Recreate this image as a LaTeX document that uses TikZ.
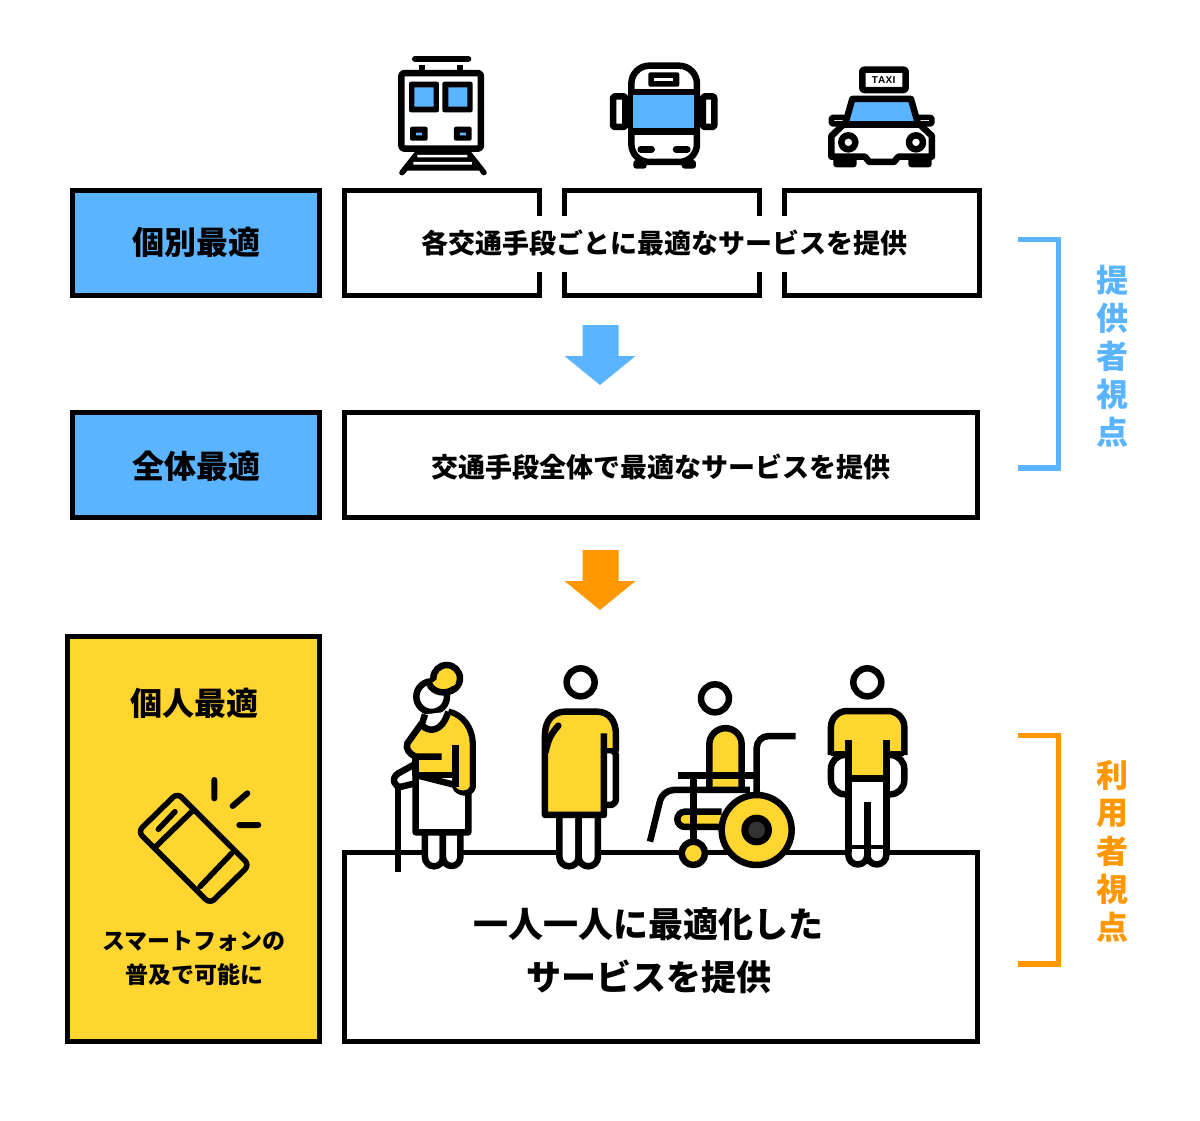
\documentclass[tikz,border=0pt]{standalone}
\usepackage{fontspec}
\setmainfont{Noto Sans CJK JP}
\definecolor{bl}{HTML}{5AB4FF}
\definecolor{or}{HTML}{FF9800}
\definecolor{ye}{HTML}{FFD530}
\tikzset{
 box/.style={draw=black,line width=5pt,miter limit=10},
 lab/.style={inner sep=0pt,anchor=center,font=\bfseries\fontsize{#1}{#1}\selectfont},
 ic/.style={draw=black,line width=6.5pt,line join=round},
 zoom/.style={x=0.3333pt,y=-0.3333pt},
}
\begin{document}
\begin{tikzpicture}[x=1pt,y=-1pt]
\useasboundingbox (0,0) rectangle (1200,1120);
\fill[white] (0,0) rectangle (1200,1120);
% left/main boxes
\draw[box,fill=bl] (72.5,190.5) rectangle (319.5,295.5);
\draw[box,fill=bl] (72.5,412.5) rectangle (319.5,517.5);
\draw[box,fill=ye] (67.5,636.5) rectangle (319.5,1041.5);
\draw[box] (344.5,412.5) rectangle (977.5,517.5);
\draw[box] (344.5,852.5) rectangle (977.5,1041.5);
% segmented box
\draw[box] (539.5,216) -- (539.5,190.5) -- (344.5,190.5) -- (344.5,295.5) -- (539.5,295.5) -- (539.5,272);
\draw[box] (564.5,216) -- (564.5,190.5) -- (759.5,190.5) -- (759.5,216);
\draw[box] (564.5,272) -- (564.5,295.5) -- (759.5,295.5) -- (759.5,272);
\draw[box] (784.5,216) -- (784.5,190.5) -- (979.5,190.5) -- (979.5,295.5) -- (784.5,295.5) -- (784.5,272);
% arrows
\fill[bl] (582.5,325) -- (618.5,325) -- (618.5,356) -- (635.5,356) -- (600,385) -- (564.5,356) -- (582.5,356) -- cycle;
\fill[or] (582.5,550) -- (618.5,550) -- (618.5,581) -- (635.5,581) -- (600,610) -- (564.5,581) -- (582.5,581) -- cycle;
% brackets
\draw[bl,line width=5.5pt] (1018,239.5) -- (1058.5,239.5) -- (1058.5,468) -- (1018,468);
\draw[or,line width=5.5pt] (1018,735.5) -- (1058.5,735.5) -- (1058.5,964) -- (1018,964);
% texts
\node[lab=32] (t1) at (196,242) {個別最適};
\node[lab=32] (t2) at (196,466) {全体最適};
\node[lab=32] (t3) at (194,703) {個人最適};
\node[lab=27] (t4) at (664,243) {各交通手段ごとに最適なサービスを提供};
\node[lab=27] (t5) at (661,467) {交通手段全体で最適なサービスを提供};
\node[lab=23] (t6) at (194,941) {スマートフォンの};
\node[lab=23] (t7) at (194,975) {普及で可能に};
\node[lab=35] (t8) at (648,924) {一人一人に最適化した};
\node[lab=35] (t9) at (649,977) {サービスを提供};
\foreach \c/\y/\n in {提/280/a,供/318/b,者/356/c,視/394/d,点/432/e}
  \node[lab=32,text=bl] (p\n) at (1112,\y) {\c};
\foreach \c/\y/\n in {利/775/a,用/813/b,者/851/c,視/889/d,点/927/e}
  \node[lab=32,text=or] (u\n) at (1112,\y) {\c};

% train
\begin{scope}[shift={(380,50)},zoom]
\fill[black] (112,296) -- (60,362) .. controls (52,372) and (66,382) .. (74,372) -- (82,362) -- (298,362) -- (304,372) .. controls (312,382) and (326,372) .. (318,362) -- (266,296) -- cycle;
\fill[white] (112,315) rectangle (262,322) (100,336) rectangle (276,344);
\draw[ic,line width=6pt,line cap=round] (105,27) -- (265,27);
\draw[ic,line width=6pt] (125,45) -- (125,65) (240,45) -- (240,65);
\draw[ic,fill=white,rounded corners=3pt] (64,69) rectangle (303,296);
\fill[black,rounded corners=2pt] (87,95) rectangle (177,187) (187,95) rectangle (278,187)
  (90,230) rectangle (143,272) (222,230) rectangle (275,272);
\fill[bl] (103,112) rectangle (161,170) (205,112) rectangle (262,170)
  (108,248) rectangle (126,256) (240,248) rectangle (258,256);
\end{scope}

% bus & taxi
\begin{scope}[shift={(600,50)},zoom]
\draw[ic,fill=white,rounded corners=2pt] (39,139) rectangle (76,231) (309,139) rectangle (343,231);
\fill[black,rounded corners=3pt] (100,330) rectangle (140,356) (245,330) rectangle (288,356);
\draw[ic,fill=white,rounded corners=18pt] (94,336) -- (94,47) -- (291,47) -- (291,336) -- cycle;
\fill[bl] (100,130) rectangle (283,240);
\draw[ic] (94,126) -- (291,126) (94,245) -- (291,245);
\fill[black,rounded corners=2pt] (145,67) rectangle (238,110);
\fill[white] (163,84) rectangle (220,93);
\draw[ic,line cap=round,line width=6.5pt] (122,298) -- (155,298) (228,298) -- (262,298);
% taxi
\fill[black,rounded corners=3pt] (700,320) rectangle (770,352) (925,320) rectangle (995,352);
\draw[ic,fill=white,rounded corners=2pt,line width=5.5pt] (694,202) rectangle (740,222) (950,202) rectangle (996,222);
\draw[ic,fill=white] (730,224) -- (694,258) -- (694,320) -- (795,320) -- (808,336) -- (882,336) -- (895,320) -- (996,320) -- (996,258) -- (960,224) -- cycle;
\draw[ic,fill=bl] (757,147) -- (933,147) -- (955,224) -- (735,224) -- cycle;
\draw[ic] (725,224) -- (965,224);
\draw[ic,fill=white] (745,277) circle (21);
\draw[ic,fill=white] (948,277) circle (21);
\draw[ic,fill=white,rounded corners=2pt] (787,59) rectangle (917,120);
\node[inner sep=0pt,font=\fontspec{Liberation Sans}\bfseries\fontsize{10}{10}\selectfont] (taxi) at (851,90) {T\kern0.2pt A\kern0.3pt X\kern0.3pt I};
\end{scope}

% phone
\begin{scope}[shift={(120,770)},zoom,line cap=round]
\draw[ic,line width=5.5pt,fill=ye,rounded corners=6pt] (172,69) -- (54,185) -- (270,401) -- (388,285) -- cycle;
\draw[ic,line width=5.5pt] (218,122) -- (105,232) (335,250) -- (240,350);
\draw[ic,line width=5.5pt] (115,178) -- (165,125);
\draw[ic,line width=6pt] (283,30) -- (283,85) (338,108) -- (382,70) (358,165) -- (415,165);
\end{scope}

% grandma & standing person
\begin{scope}[shift={(380,655)},zoom]
% cane
\draw[ic,fill=white] (100,330) -- (55,355) .. controls (30,370) and (45,400) .. (65,395) -- (105,385);
\draw[line width=6pt] (55,400) -- (55,650);
% legs
\draw[ic,fill=white] (135,530) -- (135,607) arc[start angle=180,end angle=0,radius=27] -- (189,530);
\draw[ic,fill=white] (189,530) -- (189,607) arc[start angle=180,end angle=0,radius=26] -- (241,530);
% skirt
\draw[ic,fill=white] (107,360) -- (107,532) -- (265,532) -- (265,400) -- cycle;
% head, bun
\draw[ic,fill=white] (155,125) circle (46);
\draw[ic,fill=ye] (200,70) circle (40);
\fill[ye] (148,90) -- (172,72) -- (200,60) -- (228,85) -- (205,108) -- (180,112) -- cycle;
\draw[ic] (148,88) .. controls (160,112) and (195,122) .. (225,100);
% torso
\draw[ic,fill=ye] (205,170) .. controls (250,180) and (278,220) .. (278,270) -- (278,395)
  .. controls (275,418) and (235,418) .. (226,395) -- (226,270);
\fill[ye] (125,215) -- (82,272) -- (108,300) -- (108,352) -- (226,352) -- (226,270) -- (205,175) -- (165,225) -- cycle;
\fill[ye] (226,270) -- (226,395) .. controls (235,410) and (265,410) .. (269,395) -- (269,270) .. controls (269,225) and (245,190) .. (205,178) -- cycle;
\draw[ic,line join=round] (125,205) -- (82,265) .. controls (75,280) and (90,300) .. (108,305) -- (185,305);
\draw[ic] (107,300) -- (107,360) -- (226,360);
\draw[ic] (226,270) -- (226,395);
\draw[ic,fill=white] (135,178) -- (125,210) .. controls (145,232) and (185,235) .. (205,170);
% person 2 legs
\draw[ic,fill=white] (538,480) -- (538,605) arc[start angle=180,end angle=0,radius=29] -- (596,480);
\draw[ic,fill=white] (596,480) -- (596,605) arc[start angle=180,end angle=0,radius=29] -- (654,480);
\draw[ic,fill=white] (602,82) circle (42);
% arm
\draw[ic,fill=white,rounded corners=6pt] (670,285) -- (708,285) -- (708,450) -- (670,450);
% body
\fill[ye] (495,480) -- (495,240) .. controls (495,195) and (520,170) .. (555,170) -- (650,170) .. controls (690,170) and (708,200) .. (708,240) -- (708,285) -- (672,285) -- (672,480) -- cycle;
\draw[ic] (708,290) -- (708,240) .. controls (708,200) and (690,170) .. (650,170) -- (555,170) .. controls (520,170) and (495,195) .. (495,240) -- (495,480) -- (672,480) -- (672,235);
\draw[ic,line cap=round] (535,212) .. controls (515,235) and (505,250) .. (497,290);
\draw[ic,line width=5pt] (672,285) -- (708,285);
\end{scope}

% wheelchair & person 4
\begin{scope}[shift={(640,655)},zoom]
\draw[ic,fill=white] (225,130) circle (42);
\draw[ic,fill=ye] (208,405) -- (208,268) arc[start angle=180,end angle=360,radius=48.5] -- (305,405);
\draw[ic] (115,362) -- (345,362);
\draw[ic,rounded corners=11pt] (30,560) -- (68,405) -- (330,405);
\draw[ic,fill=ye] (245,470) -- (135,470) arc[start angle=270,end angle=90,radius=23] -- (245,516);
\draw[ic,rounded corners=12pt] (467,243) -- (350,243) -- (350,420);
\draw[ic] (160,362) -- (160,565);
\draw[ic,fill=ye] (160,595) circle (35);
\draw[ic,fill=ye] (350,525) circle (105);
\fill[black] (350,525) circle (46);
\fill[black!80] (350,525) circle (25);
% person 4
\draw[ic,fill=white] (682,82) circle (42);
\draw[ic,fill=white,rounded corners=14pt] (625,300) -- (573,300) -- (573,418) -- (625,418);
\draw[ic,fill=white,rounded corners=14pt] (740,300) -- (793,300) -- (793,418) -- (740,418);
\draw[ic,fill=white] (625,370) -- (625,600) arc[start angle=180,end angle=0,radius=28.5] arc[start angle=180,end angle=0,radius=28.5] -- (740,370) -- cycle;
\fill[ye] (573,296) -- (573,215) .. controls (573,190) and (595,168) .. (620,168) -- (745,168) .. controls (770,168) and (793,190) .. (793,215) -- (793,296) -- (740,296) -- (740,370) -- (625,370) -- (625,296) -- cycle;
\draw[ic] (573,300) -- (573,215) .. controls (573,190) and (595,168) .. (620,168) -- (745,168) .. controls (770,168) and (793,190) .. (793,215) -- (793,300);
\draw[ic,line width=5pt] (573,295) -- (625,295) (740,295) -- (793,295);
\draw[ic] (625,255) -- (625,590) (740,255) -- (740,590) (625,370) -- (740,370) (682,440) -- (682,610);
\draw[ic,line width=4pt] (625,575) -- (740,575);
\end{scope}
\end{tikzpicture}
\end{document}
